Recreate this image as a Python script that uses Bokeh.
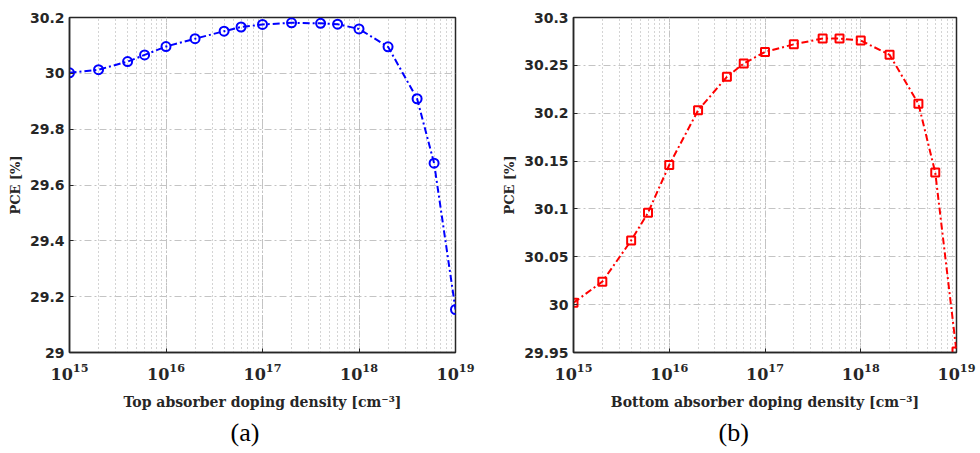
from bokeh.plotting import figure
from bokeh.layouts import row
from bokeh.models import (FixedTicker, PrintfTickFormatter, Range1d, Title, LogTicker)
from bokeh.embed import file_html
from bokeh.resources import INLINE

# ---- data ----
doping = [1e15, 2e15, 4e15, 6e15, 1e16, 2e16, 4e16, 6e16, 1e17,
          2e17, 4e17, 6e17, 1e18, 2e18, 4e18, 6e18, 1e19]
pce_top = [30.002, 30.013, 30.042, 30.066, 30.096, 30.124, 30.151, 30.166, 30.175,
           30.181, 30.179, 30.176, 30.159, 30.095, 29.909, 29.678, 29.154]
pce_bottom = [30.002, 30.024, 30.067, 30.096, 30.146, 30.203, 30.238, 30.252, 30.264,
              30.272, 30.278, 30.278, 30.276, 30.261, 30.210, 30.138, 29.951]
yticks_top = [29.0, 29.2, 29.4, 29.6, 29.8, 30.0, 30.2]
yticks_bottom = [29.95, 30.0, 30.05, 30.1, 30.15, 30.2, 30.25, 30.3]
xlabel_top = "Top absorber doping density [cm⁻³]"
xlabel_bottom = "Bottom absorber doping density [cm⁻³]"
ylabel = "PCE [%]"
captions = ["(a)", "(b)"]

AX = "#262626"
GRID = "#c4c4c4"


def make(xlabel, y, yticks, yr, color, marker, msize, caption, borders, cap_off):
    bl, br, bt, bb = borders
    p = figure(width=490, height=453, x_axis_type="log", output_backend="svg",
               toolbar_location=None, x_range=Range1d(1e15, 1e19),
               y_range=Range1d(*yr), min_border_left=bl, min_border_right=br,
               min_border_top=bt, min_border_bottom=bb)
    p.outline_line_color = AX
    p.outline_line_width = 1.5
    p.background_fill_color = "white"
    p.border_fill_color = "white"

    p.line(doping, y, line_color=color, line_width=2, line_dash="7 3 2 3")
    p.scatter(doping, y, marker=marker, size=msize, line_color=color, line_width=2,
              fill_color=None)

    xa = p.xaxis[0]
    xa.axis_label = xlabel
    xa.axis_label_text_font = "DejaVu Serif"
    xa.axis_label_text_font_style = "bold"
    xa.axis_label_text_font_size = "14px"
    xa.axis_label_text_color = AX
    xa.axis_label_standoff = 11
    xa.major_label_text_font = "DejaVu Serif"
    xa.major_label_text_font_style = "bold"
    xa.major_label_text_font_size = "16px"
    xa.major_label_text_color = AX
    xa.major_label_standoff = 10
    xa.ticker = LogTicker(desired_num_ticks=5, num_minor_ticks=10)

    ya = p.yaxis[0]
    ya.axis_label = ylabel
    ya.axis_label_text_font = "DejaVu Serif"
    ya.axis_label_text_font_style = "bold"
    ya.axis_label_text_font_size = "13px"
    ya.axis_label_text_color = AX
    ya.axis_label_standoff = 4
    ya.ticker = FixedTicker(ticks=yticks)
    ya.formatter = PrintfTickFormatter(format="%g")
    ya.major_label_text_font = "DejaVu Sans"
    ya.major_label_text_font_style = "bold"
    ya.major_label_text_font_size = "14px"
    ya.major_label_text_color = AX
    ya.major_label_standoff = 5

    for ax in (xa, ya):
        ax.axis_line_color = AX
        ax.axis_line_width = 1.5
        ax.major_tick_line_color = AX
        ax.major_tick_in = 4
        ax.major_tick_out = 0
        ax.minor_tick_in = 0
        ax.minor_tick_out = 0

    p.xgrid.grid_line_color = GRID
    p.xgrid.grid_line_dash = "7 3 2 3"
    p.xgrid.minor_grid_line_color = "#a8a8a8"
    p.xgrid.minor_grid_line_dash = "1 3"
    p.ygrid.grid_line_color = GRID
    p.ygrid.grid_line_dash = "7 3 2 3"

    t = Title(text=caption, align="left", offset=cap_off, text_font="Liberation Serif",
              text_font_size="26px", text_font_style="normal", text_color="black",
              standoff=6)
    p.add_layout(t, "below")
    return p


p1 = make(xlabel_top, pce_top, yticks_top, (29.0, 30.2), "#0000ff", "circle", 9,
          captions[0], (69, 35, 17, 101), 161)
p2 = make(xlabel_bottom, pce_bottom, yticks_bottom, (29.95, 30.3), "#ff0000", "square", 8,
          captions[1], (83, 24, 17, 101), 145)

layout = row(p1, p2)
open("out.html", "w").write(file_html(layout, INLINE))
